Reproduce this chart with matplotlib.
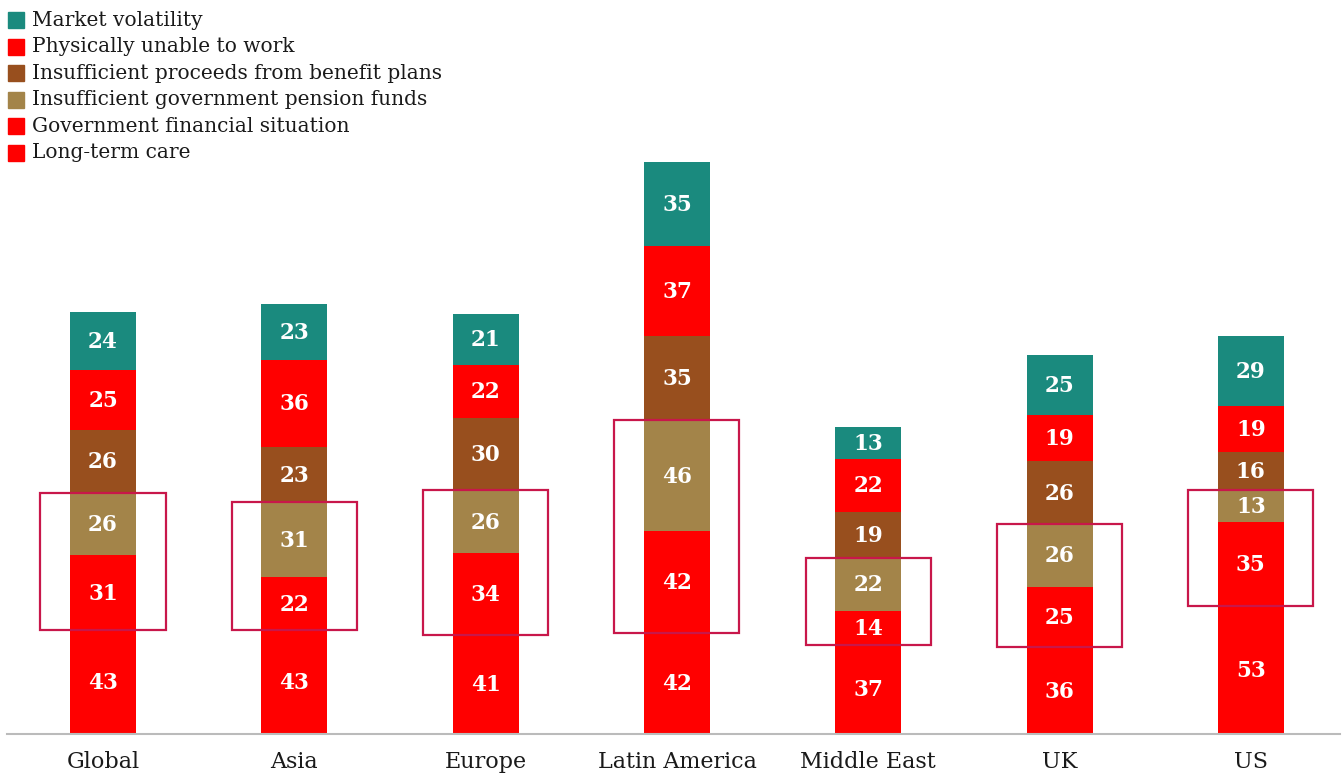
import matplotlib
matplotlib.use("Agg")
import matplotlib.pyplot as plt
from matplotlib.patches import Rectangle
import numpy as np

categories = ["Global", "Asia", "Europe", "Latin America", "Middle East", "UK", "US"]
long_term_care = [43, 43, 41, 42, 37, 36, 53]
gov_financial = [31, 22, 34, 42, 14, 25, 35]
gov_pension = [26, 31, 26, 46, 22, 26, 13]
benefit_proceeds = [26, 23, 30, 35, 19, 26, 16]
physically_unable = [25, 36, 22, 37, 22, 19, 19]
market_volatility = [24, 23, 21, 35, 13, 25, 29]

# bottom -> top
series = [
    ("Long-term care", long_term_care, "#ff0000"),
    ("Government financial situation", gov_financial, "#ff0000"),
    ("Insufficient government pension funds", gov_pension, "#a38449"),
    ("Insufficient proceeds from benefit plans", benefit_proceeds, "#984f1e"),
    ("Physically unable to work", physically_unable, "#ff0000"),
    ("Market volatility", market_volatility, "#1a8a7e"),
]

W, H = 1343, 773
fig = plt.figure(figsize=(W / 100, H / 100), dpi=100)
ax = fig.add_axes([7 / W, 39 / H, 1333 / W, 572 / H])
serif = "DejaVu Serif"

x = np.arange(len(categories))
bw = 0.345
bottom = np.zeros(len(categories))
bottoms = []
for name, vals, col in series:
    vals = np.array(vals, dtype=float)
    ax.bar(x, vals, bw, bottom=bottom, color=col, linewidth=0, zorder=2)
    for xi, b, v in zip(x, bottom, vals):
        ax.text(xi, b + v / 2 - 0.4, f"{int(v)}", ha="center", va="center", color="white",
                fontsize=15.5, fontweight="bold", family=serif, zorder=3)
    bottoms.append(bottom.copy())
    bottom = bottom + vals

# highlight boxes around government financial + pension segments
hw = 0.327
for i, xi in enumerate(x):
    y0 = bottoms[1][i]
    y1 = bottoms[2][i] + gov_pension[i]
    ax.add_patch(Rectangle((xi - hw, y0), 2 * hw, y1 - y0, fill=False,
                           edgecolor="#c8174a", linewidth=1.6, zorder=4, clip_on=False))

ax.set_xlim(-0.502, 6.466)
ax.set_ylim(0, 237)
for s in ["top", "right", "left"]:
    ax.spines[s].set_visible(False)
ax.spines["bottom"].set_color("#bbbbbb")
ax.spines["bottom"].set_linewidth(1.5)
ax.set_yticks([])
ax.set_xticks(x)
ax.set_xticklabels(categories, family=serif, fontsize=16, color="#1a1a1a")
ax.tick_params(axis="x", length=0, pad=12)

# legend (top to bottom)
legend_items = list(reversed(series))
for k, (name, vals, col) in enumerate(legend_items):
    yc = 20 + k * 26.6
    fig.patches.append(Rectangle((8 / W, 1 - (yc + 8) / H), 16 / W, 16 / H,
                                 transform=fig.transFigure, color=col, figure=fig))
    fig.text(32 / W, 1 - yc / H, name, ha="left", va="center", family=serif,
             fontsize=14.5, color="#1a1a1a")

fig.savefig("out.png", dpi=100)
